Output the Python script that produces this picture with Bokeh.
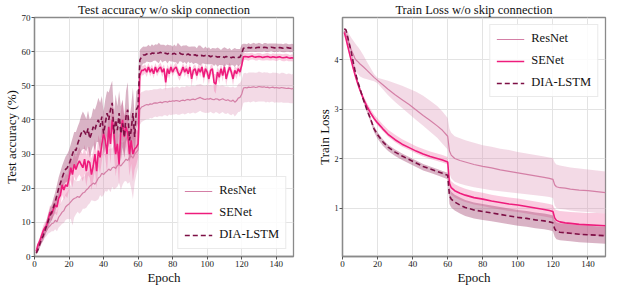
from bokeh.plotting import figure
from bokeh.models import Range1d, FixedTicker, Legend, LegendItem
from bokeh.layouts import row
from bokeh.embed import file_html
from bokeh.resources import INLINE

# ---------------- data ----------------
epochs = list(range(1, 151))

acc_resnet = [
    1.5, 2.5, 3.5, 4.8, 5.8, 7.0, 7.6, 8.5, 9.0, 9.6,
    9.8, 10.6, 10.2, 11.5, 12.2, 13.0, 13.4, 14.5, 15.0, 15.4,
    16.0, 16.6, 17.0, 17.2, 17.6, 17.3, 18.0, 18.6, 18.8, 19.5,
    19.9, 20.6, 21.0, 21.5, 21.2, 22.0, 23.0, 23.4, 24.4, 24.0,
    24.6, 25.0, 25.6, 25.2, 26.0, 26.2, 25.8, 26.6, 27.0, 26.5,
    27.2, 27.8, 28.5, 28.1, 29.0, 29.5, 28.8, 30.0, 30.6, 31.2,
    43.0, 43.8, 44.0, 44.3, 44.5, 44.4, 44.7, 44.6, 44.9, 45.0,
    44.9, 45.1, 45.2, 45.0, 45.3, 45.4, 45.2, 45.5, 45.4, 45.6,
    45.5, 45.7, 45.6, 45.4, 45.7, 45.8, 45.6, 45.9, 46.0, 45.8,
    46.0, 46.1, 45.9, 46.2, 46.4, 46.6, 46.3, 46.1, 46.0, 46.2,
    46.1, 46.3, 46.0, 45.9, 46.2, 46.1, 45.8, 46.0, 46.2, 45.9,
    45.7, 45.9, 45.6, 45.5, 45.8, 45.2, 45.6, 46.4, 46.6, 47.5,
    49.3, 49.5, 49.4, 49.6, 49.5, 49.6, 49.7, 49.5, 49.6, 49.8,
    49.7, 49.6, 49.7, 49.5, 49.6, 49.4, 49.5, 49.6, 49.4, 49.5,
    49.4, 49.3, 49.5, 49.4, 49.3, 49.2, 49.3, 49.2, 49.1, 49.2,
]
std_resnet = [
    0.5, 0.8, 1.0, 1.2, 1.3, 1.5, 1.6, 1.8, 2.0, 2.2,
    2.4, 2.6, 2.8, 3.0, 3.2, 3.4, 3.6, 3.8, 4.0, 4.5,
    5.0, 7.5, 5.5, 4.8, 4.5, 4.8, 5.0, 4.6, 4.8, 5.2,
    4.8, 5.0, 4.5, 5.2, 5.0, 5.6, 6.2, 5.4, 7.0, 6.0,
    5.4, 6.0, 5.8, 6.4, 5.6, 6.6, 5.8, 6.2, 5.4, 7.0,
    6.2, 5.8, 6.4, 6.8, 7.2, 9.5, 12.0, 8.5, 6.5, 5.0,
    4.5, 4.4, 4.3, 4.3, 4.2, 4.2, 4.1, 4.2, 4.1, 4.0,
    4.1, 4.0, 4.1, 4.0, 3.9, 4.0, 4.1, 3.9, 4.0, 4.0,
    3.9, 4.0, 4.1, 3.9, 4.0, 3.9, 4.0, 4.1, 3.9, 4.0,
    4.0, 3.9, 4.0, 4.1, 4.0, 3.9, 4.0, 3.9, 4.0, 4.1,
    4.0, 3.9, 4.0, 4.0, 3.9, 4.0, 4.1, 4.0, 3.9, 4.0,
    4.0, 3.9, 4.0, 4.1, 4.0, 4.2, 4.0, 4.1, 4.2, 4.3,
    4.3, 4.3, 4.2, 4.3, 4.4, 4.3, 4.2, 4.3, 4.3, 4.4,
    4.3, 4.2, 4.3, 4.4, 4.3, 4.3, 4.2, 4.3, 4.4, 4.3,
    4.3, 4.2, 4.3, 4.4, 4.3, 4.2, 4.3, 4.3, 4.2, 4.3,
]
acc_senet = [
    1.5, 3.5, 4.5, 6.0, 7.5, 8.5, 9.0, 11.0, 13.0, 12.5,
    14.0, 15.0, 14.5, 17.0, 18.0, 21.0, 19.5, 21.0, 20.5, 23.0,
    26.0, 24.0, 27.0, 25.5, 27.0, 28.0, 27.0, 26.0, 28.5, 25.0,
    28.0, 27.5, 24.0, 26.5, 30.0, 25.0, 31.0, 29.0, 33.0, 36.0,
    34.0, 30.0, 38.0, 33.0, 40.0, 36.0, 30.0, 33.0, 27.0, 37.0,
    40.0, 35.0, 38.0, 36.0, 30.0, 34.0, 30.0, 31.5, 32.0, 33.0,
    53.0, 54.5, 54.5, 55.0, 54.0, 55.5, 54.0, 55.0, 53.5, 55.5,
    54.0, 55.0, 55.5, 54.0, 55.0, 51.0, 55.0, 53.5, 55.5, 54.0,
    55.0, 55.5, 54.0, 53.0, 54.0, 55.5, 54.0, 55.0, 53.5, 55.5,
    52.0, 54.5, 55.0, 53.0, 55.0, 54.0, 55.5, 52.5, 55.0, 54.0,
    52.0, 54.5, 55.0, 51.0, 50.5, 54.0, 52.5, 55.0, 53.0, 55.5,
    52.0, 54.0, 55.5, 54.0, 52.0, 54.5, 53.5, 55.0, 54.0, 56.0,
    58.5, 58.6, 58.5, 58.4, 58.6, 58.7, 58.5, 58.4, 58.5, 58.6,
    58.5, 58.3, 58.4, 58.5, 58.6, 58.4, 58.3, 58.5, 58.4, 58.3,
    58.4, 58.5, 58.3, 58.2, 58.3, 58.4, 58.2, 58.1, 58.2, 58.1,
]
std_senet = [
    0.5, 0.8, 1.0, 1.2, 1.4, 1.5, 1.6, 1.8, 2.0, 2.0,
    2.2, 2.4, 2.5, 2.6, 2.8, 3.0, 3.0, 3.2, 3.4, 3.5,
    3.6, 3.8, 3.5, 3.6, 3.8, 4.0, 3.8, 4.0, 4.2, 4.5,
    4.2, 4.4, 4.6, 4.2, 4.5, 5.0, 4.6, 4.8, 5.0, 5.2,
    5.0, 5.5, 5.2, 5.8, 5.4, 6.0, 6.5, 5.8, 6.0, 5.5,
    5.8, 6.2, 5.6, 6.0, 6.4, 6.8, 8.0, 6.0, 5.0, 4.0,
    1.8, 1.5, 1.4, 1.3, 1.4, 1.2, 1.3, 1.2, 1.4, 1.2,
    1.3, 1.2, 1.3, 1.4, 1.2, 2.5, 1.3, 1.5, 1.2, 1.3,
    1.2, 1.3, 1.4, 1.5, 1.3, 1.2, 1.4, 1.3, 1.5, 1.2,
    2.2, 1.4, 1.3, 1.6, 1.3, 1.4, 1.2, 2.0, 1.3, 1.4,
    2.0, 1.5, 1.3, 2.5, 2.8, 1.5, 2.0, 1.3, 1.8, 1.2,
    2.0, 1.5, 1.3, 1.4, 2.0, 1.4, 1.6, 1.3, 1.5, 1.6,
    1.1, 1.0, 1.0, 1.1, 1.0, 1.0, 0.9, 1.0, 1.1, 1.0,
    1.0, 0.9, 1.0, 1.0, 1.1, 1.0, 0.9, 1.0, 1.0, 1.1,
    1.0, 0.9, 1.0, 1.0, 1.1, 1.0, 1.0, 0.9, 1.0, 1.0,
]
acc_dia = [
    1.0, 2.0, 3.5, 5.0, 6.0, 7.5, 9.0, 10.5, 12.0, 13.0,
    14.5, 16.0, 18.0, 20.0, 21.5, 23.0, 24.5, 25.5, 26.0, 27.0,
    28.5, 30.0, 31.5, 31.0, 33.0, 34.5, 36.0, 37.0, 36.5, 35.5,
    37.5, 34.5, 36.0, 38.0, 37.0, 39.0, 40.0, 38.0, 41.0, 36.0,
    39.0, 42.0, 40.0, 43.0, 45.0, 36.0, 40.0, 37.0, 42.0, 36.0,
    39.0, 35.0, 41.0, 43.0, 34.0, 37.0, 42.0, 35.0, 43.0, 44.0,
    57.5, 58.5, 59.0, 59.0, 59.3, 59.5, 59.2, 59.6, 59.5, 59.8,
    59.5, 59.6, 59.8, 59.4, 59.6, 59.5, 59.3, 59.6, 59.5, 59.3,
    59.5, 59.2, 59.4, 59.6, 59.3, 59.2, 59.4, 59.1, 59.3, 59.0,
    59.2, 58.9, 59.1, 58.8, 59.0, 58.8, 58.9, 58.7, 58.9, 58.6,
    58.8, 58.5, 58.7, 58.4, 58.6, 58.4, 58.5, 58.3, 58.5, 58.3,
    58.6, 58.4, 58.5, 58.2, 58.4, 58.3, 58.5, 58.3, 58.4, 59.5,
    61.0, 61.1, 61.0, 61.2, 61.1, 61.2, 61.3, 61.1, 61.2, 61.3,
    61.2, 61.1, 61.3, 61.2, 61.1, 61.2, 61.3, 61.2, 61.1, 61.2,
    61.1, 61.2, 61.1, 61.0, 61.1, 61.2, 61.1, 61.0, 61.1, 61.0,
]
std_dia = [
    0.5, 0.8, 1.0, 1.2, 1.4, 1.6, 1.8, 2.0, 2.2, 2.4,
    2.6, 2.8, 3.0, 3.2, 3.4, 3.6, 3.5, 3.8, 4.0, 4.2,
    4.4, 4.6, 5.0, 5.5, 5.0, 4.8, 5.2, 5.5, 5.0, 4.8,
    5.2, 5.6, 5.0, 5.4, 6.0, 5.5, 6.5, 7.0, 6.0, 6.5,
    7.0, 6.5, 8.0, 7.0, 6.5, 6.0, 7.5, 7.0, 6.5, 8.0,
    7.0, 6.0, 7.5, 8.0, 6.5, 7.0, 7.5, 6.0, 5.5, 5.0,
    3.0, 2.6, 2.5, 2.4, 2.2, 2.5, 2.3, 2.6, 2.2, 2.4,
    2.5, 3.0, 2.2, 2.6, 2.4, 2.2, 2.8, 2.3, 2.4, 2.2,
    2.6, 2.3, 3.2, 2.4, 2.2, 2.6, 2.4, 2.8, 2.2, 2.4,
    2.3, 2.6, 2.4, 2.2, 2.8, 3.0, 2.4, 2.2, 2.6, 2.3,
    2.5, 2.2, 2.4, 2.6, 2.3, 2.8, 2.4, 2.2, 2.5, 3.0,
    2.4, 2.3, 2.6, 2.2, 2.4, 2.8, 2.3, 2.5, 2.4, 2.6,
    1.3, 1.2, 1.2, 1.3, 1.1, 1.2, 1.3, 1.2, 1.2, 1.3,
    1.2, 1.1, 1.2, 1.3, 1.2, 1.2, 1.1, 1.2, 1.3, 1.2,
    1.2, 1.1, 1.2, 1.2, 1.3, 1.2, 1.1, 1.2, 1.2, 1.2,
]

loss_epochs = [1, 2, 3, 4, 5, 6, 7, 8, 9, 10, 12, 14, 16, 18, 20, 23, 26, 30,
               34, 38, 42, 46, 50, 54, 57, 60, 61, 62, 64, 67, 70, 75, 80, 85,
               90, 95, 100, 105, 110, 115, 118, 120, 121, 122, 124, 127, 130,
               135, 140, 145, 150]
loss_resnet = [4.58, 4.50, 4.40, 4.30, 4.20, 4.12, 4.03, 3.98, 3.95, 3.91,
               3.85, 3.78, 3.71, 3.64, 3.58, 3.49, 3.40, 3.29,
               3.19, 3.09, 2.98, 2.87, 2.77, 2.66, 2.57, 2.45,
               2.15, 2.07, 2.00, 1.96, 1.93, 1.88, 1.84, 1.81, 1.77, 1.74, 1.71,
               1.68, 1.65, 1.62, 1.60, 1.58, 1.47, 1.43, 1.41, 1.40, 1.38,
               1.36, 1.35, 1.33, 1.31]
loss_resnet_hi = [4.62, 4.60, 4.56, 4.50, 4.44, 4.39, 4.34, 4.29, 4.25, 4.20,
                  4.08, 3.95, 3.83, 3.71, 3.63, 3.60, 3.57, 3.52,
                  3.47, 3.41, 3.35, 3.27, 3.17, 3.06, 2.95, 2.82,
                  2.60, 2.52, 2.45, 2.41, 2.37, 2.32, 2.27, 2.24, 2.20, 2.17, 2.13,
                  2.10, 2.07, 2.04, 2.02, 2.01, 1.92, 1.88, 1.86, 1.84, 1.82,
                  1.80, 1.78, 1.76, 1.74]
loss_resnet_lo = [4.54, 4.42, 4.28, 4.15, 3.98, 3.88, 3.80, 3.74, 3.70, 3.66,
                  3.62, 3.60, 3.58, 3.56, 3.52, 3.40, 3.28, 3.14,
                  3.02, 2.90, 2.78, 2.66, 2.54, 2.42, 2.30, 2.18,
                  1.70, 1.60, 1.53, 1.49, 1.46, 1.42, 1.39, 1.36, 1.34, 1.32, 1.30,
                  1.28, 1.26, 1.24, 1.22, 1.20, 1.05, 1.00, 0.98, 0.97, 0.95,
                  0.93, 0.92, 0.90, 0.89]
loss_senet = [4.55, 4.42, 4.27, 4.12, 3.98, 3.84, 3.71, 3.59, 3.48, 3.38,
              3.20, 3.05, 2.92, 2.81, 2.72, 2.60, 2.49, 2.38,
              2.29, 2.22, 2.15, 2.09, 2.04, 2.00, 1.97, 1.93,
              1.50, 1.41, 1.35, 1.30, 1.26, 1.21, 1.18, 1.14, 1.11, 1.08, 1.06,
              1.03, 1.00, 0.97, 0.95, 0.93, 0.80, 0.75, 0.72, 0.70, 0.69,
              0.67, 0.66, 0.65, 0.64]
loss_senet_hi = [4.58, 4.46, 4.31, 4.17, 4.03, 3.89, 3.76, 3.64, 3.54, 3.44,
                 3.27, 3.12, 3.00, 2.89, 2.81, 2.69, 2.58, 2.48,
                 2.39, 2.32, 2.25, 2.19, 2.14, 2.10, 2.07, 2.03,
                 1.62, 1.54, 1.48, 1.43, 1.39, 1.34, 1.31, 1.27, 1.24, 1.21, 1.19,
                 1.16, 1.13, 1.10, 1.08, 1.06, 0.98, 0.96, 0.94, 0.93, 0.92,
                 0.91, 0.90, 0.90, 0.89]
loss_senet_lo = [4.52, 4.38, 4.23, 4.08, 3.94, 3.80, 3.67, 3.55, 3.44, 3.34,
                 3.16, 3.01, 2.88, 2.77, 2.67, 2.55, 2.44, 2.33,
                 2.24, 2.17, 2.10, 2.04, 1.99, 1.95, 1.92, 1.88,
                 1.36, 1.27, 1.21, 1.16, 1.12, 1.07, 1.04, 1.00, 0.97, 0.94, 0.92,
                 0.89, 0.86, 0.83, 0.81, 0.79, 0.60, 0.54, 0.51, 0.49, 0.48,
                 0.46, 0.45, 0.44, 0.43]
loss_dia = [4.62, 4.60, 4.45, 4.30, 4.15, 3.97, 3.80, 3.65, 3.52, 3.41,
            3.18, 2.98, 2.80, 2.60, 2.48, 2.34, 2.23, 2.13,
            2.05, 1.98, 1.91, 1.84, 1.79, 1.74, 1.70, 1.66,
            1.25, 1.18, 1.12, 1.06, 1.01, 0.96, 0.93, 0.90, 0.87, 0.84, 0.81,
            0.79, 0.76, 0.74, 0.72, 0.70, 0.58, 0.53, 0.51, 0.50, 0.49,
            0.47, 0.46, 0.45, 0.44]
loss_dia_hi = [4.64, 4.63, 4.49, 4.34, 4.19, 4.01, 3.84, 3.69, 3.56, 3.45,
               3.22, 3.02, 2.84, 2.65, 2.53, 2.39, 2.28, 2.18,
               2.10, 2.03, 1.96, 1.89, 1.84, 1.79, 1.75, 1.71,
               1.40, 1.33, 1.27, 1.21, 1.16, 1.11, 1.08, 1.05, 1.02, 0.99, 0.96,
               0.94, 0.91, 0.89, 0.87, 0.85, 0.76, 0.71, 0.69, 0.68, 0.67,
               0.65, 0.64, 0.63, 0.62]
loss_dia_lo = [4.60, 4.57, 4.41, 4.26, 4.11, 3.93, 3.76, 3.61, 3.48, 3.37,
               3.13, 2.93, 2.74, 2.53, 2.40, 2.26, 2.15, 2.05,
               1.97, 1.90, 1.83, 1.76, 1.71, 1.66, 1.62, 1.58,
               1.08, 1.01, 0.95, 0.89, 0.84, 0.79, 0.76, 0.73, 0.70, 0.67, 0.64,
               0.62, 0.59, 0.57, 0.55, 0.53, 0.42, 0.37, 0.35, 0.34, 0.33,
               0.31, 0.30, 0.29, 0.28]

series_names = ["ResNet", "SENet", "DIA-LSTM"]
x_ticks = [0, 20, 40, 60, 80, 100, 120, 140]
acc_ticks = [0, 10, 20, 30, 40, 50, 60, 70]
loss_ticks = [1, 2, 3, 4]

# ---------------- style ----------------
FONT = "Liberation Serif"
LINE_COLORS = ["#d47fa6", "#ee1c7c", "#7d0f45"]
FILL_COLORS = ["#d98cb0", "#f0609f", "#a0406e"]
FILL_ALPHAS = [0.32, 0.32, 0.40]
LINE_WIDTHS = [1.2, 1.6, 1.6]
LINE_DASHES = ["solid", "solid", "5 3"]
FRAME = "#8a8a8a"


def style(p, ylab):
    p.title.text_font = FONT
    p.title.text_font_size = "12.5px"
    p.title.text_font_style = "normal"
    p.title.align = "center"
    p.title.standoff = 1
    p.title.text_color = "#111111"
    p.outline_line_color = FRAME
    p.outline_line_width = 1.3
    p.background_fill_color = "white"
    p.border_fill_color = "white"
    p.grid.grid_line_color = "#e3e3e3"
    p.grid.grid_line_width = 1
    for ax in (p.xaxis[0], p.yaxis[0]):
        ax.axis_line_color = FRAME
        ax.axis_line_width = 1.3
        ax.major_tick_line_color = "#555555"
        ax.major_tick_out = 3
        ax.major_tick_in = 0
        ax.minor_tick_line_color = None
        ax.major_label_text_font = FONT
        ax.major_label_text_color = "#222222"
        ax.major_label_standoff = 1
        ax.axis_label_text_font = FONT
        ax.axis_label_text_font_style = "normal"
        ax.axis_label_text_font_size = "13px"
        ax.axis_label_text_color = "#111111"
        ax.axis_label_standoff = 0
    p.xaxis.axis_label = "Epoch"
    p.yaxis.axis_label = ylab
    p.xaxis.ticker = FixedTicker(ticks=x_ticks)


def legend(p, renderers, loc):
    items = [LegendItem(label=n, renderers=[r]) for n, r in zip(series_names, renderers)]
    lg = Legend(items=items, location=loc)
    lg.label_text_font = FONT
    lg.label_text_font_size = "12.5px"
    lg.label_text_color = "#111111"
    lg.glyph_width = 28
    lg.glyph_height = 14
    lg.spacing = 7
    lg.padding = 6
    lg.margin = 7
    lg.label_standoff = 7
    lg.border_line_color = "#d6d6d6"
    lg.border_line_width = 1
    lg.background_fill_alpha = 0.85
    p.add_layout(lg)


# ---------------- left: test accuracy ----------------
p1 = figure(width=300, height=287, x_range=Range1d(0, 150), y_range=Range1d(0, 70),
            title="Test accuracy w/o skip connection", output_backend="svg",
            toolbar_location=None, min_border_left=26, min_border_right=7,
            min_border_top=0, min_border_bottom=0)
style(p1, "Test accuracy (%)")
p1.yaxis.ticker = FixedTicker(ticks=acc_ticks)
p1.xaxis.major_label_text_font_size = "9px"
p1.yaxis.major_label_text_font_size = "9px"

acc_means = [acc_resnet, acc_senet, acc_dia]
acc_stds = [std_resnet, std_senet, std_dia]
for i in range(3):
    m, s = acc_means[i], acc_stds[i]
    p1.varea(x=epochs, y1=[a - b for a, b in zip(m, s)], y2=[a + b for a, b in zip(m, s)],
             fill_color=FILL_COLORS[i], fill_alpha=FILL_ALPHAS[i])
r_acc = []
for i in range(3):
    r_acc.append(p1.line(epochs, acc_means[i], line_color=LINE_COLORS[i],
                         line_width=LINE_WIDTHS[i], line_dash=LINE_DASHES[i]))
legend(p1, r_acc, "bottom_right")

# ---------------- right: train loss ----------------
p2 = figure(width=307, height=287, x_range=Range1d(0, 150), y_range=Range1d(0.02, 4.85),
            title="Train Loss w/o skip connection", output_backend="svg",
            toolbar_location=None, min_border_left=42, min_border_right=2,
            min_border_top=0, min_border_bottom=0)
style(p2, "Train Loss")
p2.yaxis.ticker = FixedTicker(ticks=loss_ticks)
p2.xaxis.major_label_text_font_size = "9px"
p2.yaxis.major_label_text_font_size = "8px"

loss_means = [loss_resnet, loss_senet, loss_dia]
loss_los = [loss_resnet_lo, loss_senet_lo, loss_dia_lo]
loss_his = [loss_resnet_hi, loss_senet_hi, loss_dia_hi]
for i in range(3):
    p2.varea(x=loss_epochs, y1=loss_los[i], y2=loss_his[i],
             fill_color=FILL_COLORS[i], fill_alpha=FILL_ALPHAS[i])
r_loss = []
for i in range(3):
    r_loss.append(p2.line(loss_epochs, loss_means[i], line_color=LINE_COLORS[i],
                          line_width=LINE_WIDTHS[i], line_dash=LINE_DASHES[i]))
legend(p2, r_loss, "top_right")

layout = row(p1, p2)
open("out.html", "w").write(file_html(layout, INLINE))
